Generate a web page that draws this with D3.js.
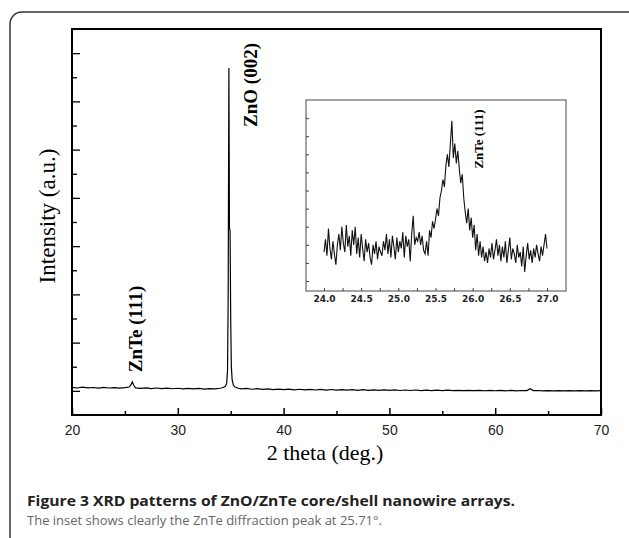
<!DOCTYPE html>
<html>
<head>
<meta charset="utf-8">
<style>
  body { margin: 0; background: #fff; }
  svg { display: block; }
  .serif { font-family: "Liberation Serif", "Times New Roman", serif; }
  .sans { font-family: "Liberation Sans", Arial, sans-serif; }
  .cap { font-family: "Open Sans", "Noto Sans", sans-serif; }
</style>
<script src="https://d3js.org/d3.v7.min.js"></script>
</head>
<body>
<script>
// main scan: 2 theta (deg) and intensity (a.u.)
const mainTheta = [20,20.5,21,21.5,22,22.5,23,23.5,24,24.5,25,25.4,25.55,25.7,25.85,26,26.5,27,27.5,28,28.5,29,29.5,30,30.5,31,31.5,32,32.5,33,33.5,34,34.3,34.5,34.62,34.7,34.76,34.83,34.88,34.94,35,35.06,35.14,35.25,35.4,35.7,36,36.5,37,37.5,38,38.5,39,39.5,40,40.5,41,41.5,42,42.5,43,43.5,44,44.5,45,45.5,46,46.5,47,47.5,48,48.5,49,49.5,50,50.5,51,51.5,52,52.5,53,53.5,54,54.5,55,55.5,56,56.5,57,57.5,58,58.5,59,59.5,60,60.5,61,61.5,62,62.5,63,63.3,63.6,64,64.5,65,65.5,66,66.5,67,67.5,68,68.5,69,69.5,70];
const mainCounts = [72,60,78,62,70,58,74,60,68,56,66,80,120,185,110,62,50,64,48,60,46,56,44,54,42,52,40,50,38,48,42,55,70,95,160,420,1900,6690,3400,3300,1500,500,220,120,80,55,40,52,34,45,30,42,28,38,25,36,22,34,20,32,18,30,17,28,15,26,14,25,12,24,12,22,10,22,10,20,8,18,8,18,6,16,6,14,5,14,5,12,4,12,4,11,3,10,3,10,2,9,2,8,5,45,5,8,2,7,1,7,1,6,0,6,0,5,0,5];
const mainTicks = [20, 30, 40, 50, 60, 70];
const mainMinor = [25, 35, 45, 55, 65];

// inset scan 24.0 - 27.0 deg, one value every 0.02 deg
const insetStart = 24, insetStep = 0.02;
const insetCounts = [
  1.6,2.3,1.4,2.9,1.8,1.2,2.2,1.5,0.9,2.0,
  2.6,1.7,3.0,2.1,1.6,3.1,1.9,2.5,1.4,2.8,
  2.0,3.0,1.5,2.4,1.3,2.6,1.8,1.1,2.3,1.6,
  2.1,1.3,0.9,2.0,1.5,2.2,1.2,1.9,1.6,1.4,
  2.2,1.7,2.6,1.5,2.3,1.3,2.5,1.9,1.2,2.4,
  1.6,2.2,1.8,2.7,1.3,2.5,1.9,2.3,1.1,2.6,
  3.6,2.0,2.4,2.2,2.7,2.0,2.5,1.7,1.5,2.2,
  1.4,2.8,2.4,3.3,2.9,
  3.4,4.0,3.6,4.6,5.0,5.6,5.2,6.4,7.0,6.3,
  7.6,8.85,6.8,7.6,6.5,7.2,6.2,5.4,5.9,4.6,
  3.8,3.2,4.0,2.8,3.5,
  2.4,3.1,1.7,2.6,1.4,2.2,1.3,1.9,1.1,1.6,
  1.0,1.8,1.3,2.1,1.2,1.7,2.3,1.4,2.0,1.1,
  1.9,1.3,2.2,1.0,1.7,2.4,1.2,1.8,1.5,1.0,
  2.0,1.3,1.6,0.8,1.9,0.5,1.4,2.1,1.2,1.7,
  1.0,1.8,1.3,2.0,1.5,1.1,1.9,1.4,2.0,2.6,
  1.8];
const insetTicks = [24, 24.25, 24.5, 24.75, 25, 25.25, 25.5, 25.75, 26, 26.25, 26.5, 26.75, 27];

const W = 629, H = 538;
const svg = d3.select("body").append("svg").attr("width", W).attr("height", H);

// panel border
svg.append("rect").attr("x", 10).attr("y", 12).attr("width", 640).attr("height", 600)
   .attr("rx", 12).attr("fill", "none").attr("stroke", "#333").attr("stroke-width", 1.5);

// ---- main plot ----
const x = d3.scaleLinear().domain([20, 70]).range([72, 601]);
const y = d3.scaleLinear().domain([-500, 7500]).range([415, 29]);

svg.append("g").attr("transform", "translate(0,415)").attr("class", "sans")
   .call(d3.axisBottom(x).tickValues(mainTicks).tickSizeInner(-7).tickSizeOuter(0).tickPadding(10))
   .call(g => g.select(".domain").remove())
   .call(g => g.selectAll("line").attr("stroke", "#000").attr("stroke-width", 1.5))
   .call(g => g.selectAll("text").attr("font-size", 14).attr("fill", "#222").attr("font-family", "Liberation Sans, Arial, sans-serif"));
svg.append("g").attr("transform", "translate(0,415)")
   .call(d3.axisBottom(x).tickValues(mainMinor).tickSizeInner(-4).tickSizeOuter(0).tickFormat(""))
   .call(g => g.select(".domain").remove())
   .call(g => g.selectAll("line").attr("stroke", "#000").attr("stroke-width", 1.5));

svg.append("g").attr("transform", "translate(72,0)")
   .call(d3.axisLeft(y).tickValues(d3.range(0, 7001, 1000)).tickSizeInner(-8).tickSizeOuter(0).tickFormat(""))
   .call(g => g.select(".domain").remove())
   .call(g => g.selectAll("line").attr("stroke", "#000").attr("stroke-width", 1.3));
svg.append("g").attr("transform", "translate(72,0)")
   .call(d3.axisLeft(y).tickValues(d3.range(500, 7001, 1000)).tickSizeInner(-5).tickSizeOuter(0).tickFormat(""))
   .call(g => g.select(".domain").remove())
   .call(g => g.selectAll("line").attr("stroke", "#000").attr("stroke-width", 1.3));

const mainLine = d3.line().x(i => x(mainTheta[i])).y(i => y(mainCounts[i]));
svg.append("path").attr("d", mainLine(d3.range(mainTheta.length)))
   .attr("fill", "none").attr("stroke", "#000").attr("stroke-width", 1.2);

svg.append("rect").attr("x", 72).attr("y", 29).attr("width", 529).attr("height", 386)
   .attr("fill", "none").attr("stroke", "#000").attr("stroke-width", 2);

// peak labels
svg.append("text").attr("class", "serif").attr("transform", "translate(250,85) rotate(-90)")
   .attr("text-anchor", "middle").attr("dominant-baseline", "central")
   .attr("font-size", 19).attr("font-weight", "bold").text("ZnO (002)");
svg.append("text").attr("class", "serif").attr("transform", "translate(135,329) rotate(-90)")
   .attr("text-anchor", "middle").attr("dominant-baseline", "central")
   .attr("font-size", 19).attr("font-weight", "bold").text("ZnTe (111)");

// axis titles
svg.append("text").attr("class", "serif").attr("transform", "translate(47,216) rotate(-90)")
   .attr("text-anchor", "middle").attr("dominant-baseline", "central")
   .attr("font-size", 23).text("Intensity (a.u.)");
svg.append("text").attr("class", "serif").attr("x", 325).attr("y", 460)
   .attr("text-anchor", "middle").attr("font-size", 22).text("2 theta (deg.)");

// ---- inset ----
const xi = d3.scaleLinear().domain([24, 27]).range([324, 547]);
const yi = d3.scaleLinear().domain([-0.55, 10]).range([291, 100]);

svg.append("rect").attr("x", 306).attr("y", 100).attr("width", 260).attr("height", 191)
   .attr("fill", "#fff").attr("stroke", "#666").attr("stroke-width", 1.2);

svg.append("g").attr("transform", "translate(0,291)")
   .call(d3.axisBottom(xi).tickValues(insetTicks).tickSizeInner(-3).tickSizeOuter(0).tickPadding(5)
          .tickFormat(d => (d * 2) % 1 === 0 ? d3.format(".1f")(d) : ""))
   .call(g => g.select(".domain").remove())
   .call(g => g.selectAll("line").attr("stroke", "#444"))
   .call(g => g.selectAll("text").attr("font-size", 9).attr("font-weight", "bold").attr("fill", "#222")
                 .attr("font-family", "DejaVu Sans, sans-serif"));
svg.append("g").attr("transform", "translate(306,0)")
   .call(d3.axisLeft(yi).tickValues(d3.range(0, 10, 1)).tickSizeInner(-3).tickSizeOuter(0).tickFormat(""))
   .call(g => g.select(".domain").remove())
   .call(g => g.selectAll("line").attr("stroke", "#444"));

const insetLine = d3.line().x((d, i) => xi(insetStart + i * insetStep)).y(d => yi(d));
svg.append("path").attr("d", insetLine(insetCounts))
   .attr("fill", "none").attr("stroke", "#111").attr("stroke-width", 1.1);

svg.append("text").attr("class", "serif").attr("transform", "translate(478,139) rotate(-90)")
   .attr("text-anchor", "middle").attr("dominant-baseline", "central")
   .attr("font-size", 13).attr("font-weight", "bold").text("ZnTe (111)");

// ---- caption ----
svg.append("text").attr("class", "cap").attr("x", 27).attr("y", 506)
   .attr("font-size", 14).attr("font-weight", "bold").attr("fill", "#222")
   .attr("textLength", 488).attr("lengthAdjust", "spacingAndGlyphs")
   .text("Figure 3 XRD patterns of ZnO/ZnTe core/shell nanowire arrays.");
svg.append("text").attr("class", "cap").attr("x", 27).attr("y", 525)
   .attr("font-size", 13).attr("fill", "#666")
   .attr("textLength", 355).attr("lengthAdjust", "spacingAndGlyphs")
   .text("The inset shows clearly the ZnTe diffraction peak at 25.71°.");
</script>
</body>
</html>
